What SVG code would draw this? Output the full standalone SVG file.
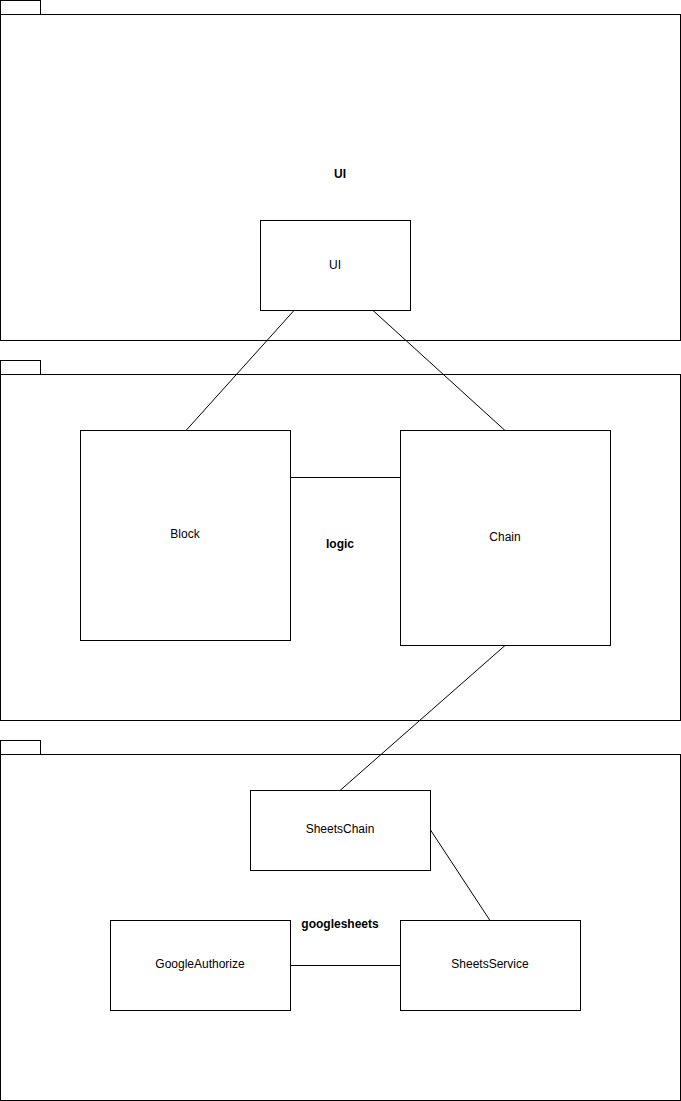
<svg xmlns="http://www.w3.org/2000/svg" width="681" height="1101" viewBox="0 0 681 1101">
<style>
.s{fill:#fff;stroke:#000;stroke-width:1}
.t{font-family:"Liberation Sans",Arial,sans-serif;font-size:12px;text-anchor:middle;dominant-baseline:central;fill:#000}
.b{font-weight:bold}
.c{stroke:#000;stroke-width:1;fill:none}
</style>
<rect width="681" height="1101" fill="#fff"/>
<g id="pkg-ui">
<rect class="s" x="0.5" y="0.5" width="40" height="14"/>
<rect class="s" x="0.5" y="14.5" width="680" height="326"/>
<text class="t b" x="340" y="174">UI</text>
</g>
<g id="pkg-logic">
<rect class="s" x="0.5" y="360.5" width="40" height="14"/>
<rect class="s" x="0.5" y="374.5" width="680" height="346"/>
<text class="t b" x="340" y="544">logic</text>
</g>
<g id="pkg-googlesheets">
<rect class="s" x="0.5" y="740.5" width="40" height="14"/>
<rect class="s" x="0.5" y="754.5" width="680" height="346"/>
<text class="t b" x="340" y="924">googlesheets</text>
</g>
<g id="connectors">
<line class="c" x1="294" y1="310.5" x2="186" y2="430.5"/>
<line class="c" x1="373" y1="310.5" x2="505" y2="430.5"/>
<line class="c" x1="290.5" y1="477.5" x2="400.5" y2="477.5"/>
<line class="c" x1="505" y1="645.5" x2="340" y2="790.5"/>
<line class="c" x1="430.5" y1="830" x2="490" y2="920.5"/>
<line class="c" x1="290.5" y1="965.5" x2="400.5" y2="965.5"/>
</g>
<g id="node-ui">
<rect class="s" x="260.5" y="220.5" width="150" height="90"/>
<text class="t" x="335" y="265">UI</text>
</g>
<g id="node-block">
<rect class="s" x="80.5" y="430.5" width="210" height="210"/>
<text class="t" x="185" y="534">Block</text>
</g>
<g id="node-chain">
<rect class="s" x="400.5" y="430.5" width="210" height="215"/>
<text class="t" x="505" y="537">Chain</text>
</g>
<g id="node-sheetschain">
<rect class="s" x="250.5" y="790.5" width="180" height="80"/>
<text class="t" x="340" y="829">SheetsChain</text>
</g>
<g id="node-googleauthorize">
<rect class="s" x="110.5" y="920.5" width="180" height="90"/>
<text class="t" x="200" y="964">GoogleAuthorize</text>
</g>
<g id="node-sheetsservice">
<rect class="s" x="400.5" y="920.5" width="180" height="90"/>
<text class="t" x="490" y="964">SheetsService</text>
</g>
</svg>
